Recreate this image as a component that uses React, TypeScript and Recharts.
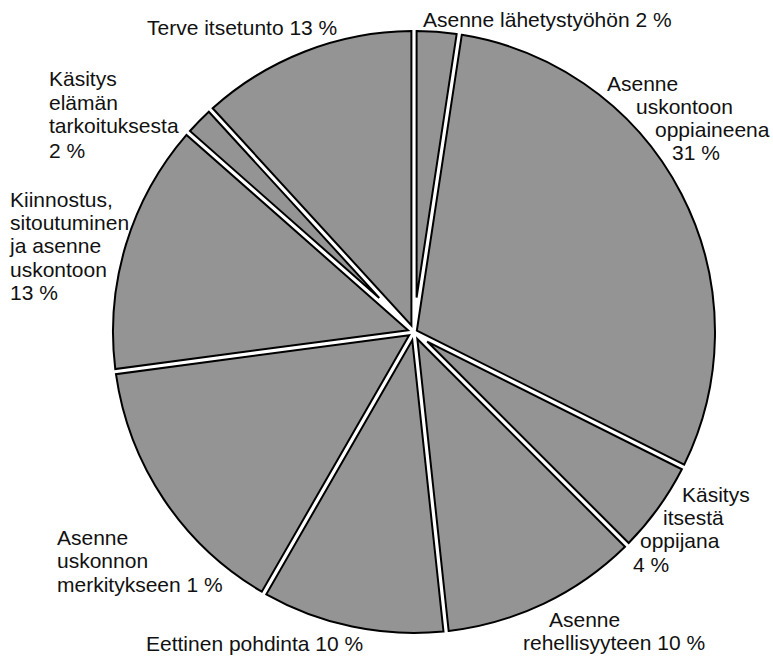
import React from "react";
import { Pie, PieChart } from "recharts";

// slice shares (clockwise from 12 o'clock)
const categories = [
  "Asenne lähetystyöhön",
  "Asenne uskontoon oppiaineena",
  "Käsitys itsestä oppijana",
  "Asenne rehellisyyteen",
  "Eettinen pohdinta",
  "Asenne uskonnon merkitykseen",
  "Kiinnostus, sitoutuminen ja asenne uskontoon",
  "Käsitys elämän tarkoituksesta",
  "Terve itsetunto",
];
const shares = [2.4, 30.0, 5.1, 10.8, 10.0, 14.6, 13.6, 1.7, 11.8];
const labelLines = [
  ["Asenne lähetystyöhön 2 %"],
  ["Asenne", "uskontoon", "oppiaineena", "31 %"],
  ["Käsitys", "itsestä", "oppijana", "4 %"],
  ["Asenne", "rehellisyyteen 10 %"],
  ["Eettinen pohdinta 10 %"],
  ["Asenne", "uskonnon", "merkitykseen 1 %"],
  ["Kiinnostus,", "sitoutuminen", "ja asenne", "uskontoon", "13 %"],
  ["Käsitys", "elämän", "tarkoituksesta", "2 %"],
  ["Terve itsetunto 13 %"],
];

// where each label line sits (x, baseline)
const labelPos: number[][][] = [
  [[423, 27]],
  [[607, 91], [636, 114], [655, 137], [672, 160]],
  [[682, 502], [663, 525], [640, 548], [633, 572]],
  [[549, 627], [523, 650]],
  [[146, 651]],
  [[57, 545], [57, 568], [57, 592]],
  [[10, 207], [10, 230], [10, 253], [10, 277], [10, 300]],
  [[49, 86], [49, 110], [49, 133], [49, 158]],
  [[147, 35]],
];

const data = categories.map((name, i) => ({ name, value: shares[i] }));

const RAD = Math.PI / 180;
const GAP = 2.6;

function pt(cx: number, cy: number, a: number, r: number) {
  return [cx + r * Math.cos(-a * RAD), cy + r * Math.sin(-a * RAD)];
}

// sector pulled in by a constant gap on both straight edges
function Slice(props: any) {
  const { cx, cy, outerRadius: R, startAngle, endAngle } = props;
  const lo = Math.min(startAngle, endAngle);
  const hi = Math.max(startAngle, endAngle);
  const half = ((hi - lo) / 2) * RAD;
  const da = Math.asin(GAP / R) / RAD;
  const apex = pt(cx, cy, (lo + hi) / 2, GAP / Math.sin(half));
  const a = pt(cx, cy, lo + da, R);
  const b = pt(cx, cy, hi - da, R);
  const large = hi - lo - 2 * da > 180 ? 1 : 0;
  const d = `M${apex[0]},${apex[1]} L${a[0]},${a[1]} A${R},${R} 0 ${large} 0 ${b[0]},${b[1]} Z`;
  return <path d={d} fill="#949494" stroke="#000" strokeWidth={2} strokeLinejoin="miter" />;
}

function Label(props: any) {
  const i = props.index;
  return (
    <g>
      {labelLines[i].map((line, j) => (
        <text
          key={j}
          x={labelPos[i][j][0]}
          y={labelPos[i][j][1]}
          fontSize={21}
          fontFamily="'Liberation Sans', Arial, sans-serif"
          fill="#111"
        >
          {line}
        </text>
      ))}
    </g>
  );
}

export default function App() {
  return (
    <div style={{ position: "absolute", left: 0, top: 0, background: "#fff" }}>
      <PieChart width={773} height={662} margin={{ top: 0, right: 0, bottom: 0, left: 0 }}>
        <Pie
          data={data}
          dataKey="value"
          nameKey="name"
          cx={414}
          cy={332}
          outerRadius={301}
          startAngle={90}
          endAngle={-270}
          stroke="none"
          shape={Slice}
          label={Label}
          labelLine={false}
          isAnimationActive={false}
        />
      </PieChart>
    </div>
  );
}
